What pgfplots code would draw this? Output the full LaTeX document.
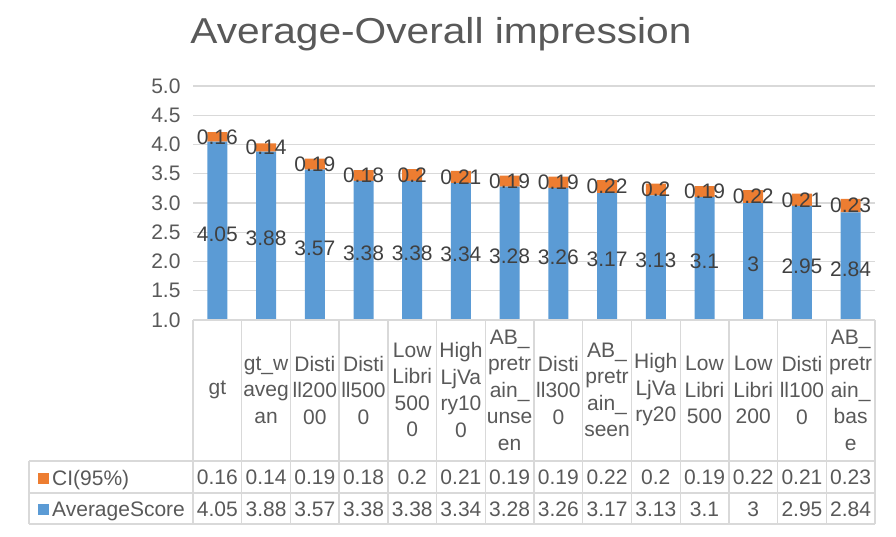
\documentclass[border=0pt]{standalone}
\usepackage{pgfplots}
\pgfplotsset{compat=1.18}
\usepackage{pgfplotstable}
\usepackage{fontspec}
\setmainfont{Liberation Sans}
\newfontfamily\titlefont{Liberation Sans}[FakeStretch=1.13]
\definecolor{barblue}{HTML}{5B9BD5}
\definecolor{barorange}{HTML}{ED7D31}
\definecolor{txtgray}{HTML}{595959}
\definecolor{lblgray}{HTML}{404040}
\definecolor{gridgray}{HTML}{D9D9D9}
\newcommand\lbl{\fontsize{21}{26}\selectfont}

\pgfplotstableread{
x score ci
0 4.05 0.16
1 3.88 0.14
2 3.57 0.19
3 3.38 0.18
4 3.38 0.2
5 3.34 0.21
6 3.28 0.19
7 3.26 0.19
8 3.17 0.22
9 3.13 0.2
10 3.1 0.19
11 3 0.22
12 2.95 0.21
13 2.84 0.23
}\data

\begin{document}
\begin{tikzpicture}
\useasboundingbox (0pt,0pt) rectangle (896pt,536pt);
\node[anchor=base, text=txtgray, font=\titlefont\fontsize{36}{40}\selectfont] at (441pt,492pt) {Average-Overall impression};

\begin{axis}[
  at={(193pt,216pt)}, anchor=south west,
  scale only axis, width=682pt, height=234pt,
  ybar stacked, bar width=20pt,
  xmin=-0.5, xmax=13.5, ymin=1, ymax=5,
  ytick={1,1.5,2,2.5,3,3.5,4,4.5,5},
  xtick={0,1,2,3,4,5,6,7,8,9,10,11,12,13},
  xticklabels={gt,{gt\_w\\aveg\\an},{Disti\\ll200\\00},{Disti\\ll500\\0},{Low\\Libri\\500\\0},{High\\LjVa\\ry10\\0},{AB\_\\pretr\\ain\_\\unse\\en},{Disti\\ll300\\0},{AB\_\\pretr\\ain\_\\seen},{High\\LjVa\\ry20},{Low\\Libri\\500},{Low\\Libri\\200},{Disti\\ll100\\0},{AB\_\\pretr\\ain\_\\bas\\e}},
  axis x line=bottom, axis y line=left, axis line style={draw=none,-},
  major tick length=0pt,
  ymajorgrids, grid style={gridgray, line width=1.3pt},
  /pgf/number format/assume math mode=true,
  yticklabel style={font=\lbl, text=txtgray, /pgf/number format/fixed, /pgf/number format/fixed zerofill, /pgf/number format/precision=1, xshift=-9pt},
  xticklabel style={anchor=center, align=center, yshift=-70pt, font=\fontsize{21}{26.5}\selectfont, text=txtgray, inner sep=0pt},
]
\addplot[fill=barblue, draw=none] table[x=x, y=score]{\data};
\addplot[fill=barorange, draw=none] table[x=x, y=ci]{\data};
\end{axis}

\begin{axis}[
  at={(193pt,216pt)}, anchor=south west,
  scale only axis, width=682pt, height=234pt,
  xmin=-0.5, xmax=13.5, ymin=1, ymax=5,
  hide axis, clip=false,
]
\addplot[draw=none, mark=none, nodes near coords, point meta=explicit symbolic,
  nodes near coords style={anchor=center, text=lblgray, font=\lbl, inner sep=0pt, yshift=-3pt}]
  table[x=x, y expr={(1+\thisrow{score})/2}, meta=score]{\data};
\addplot[draw=none, mark=none, nodes near coords, point meta=explicit symbolic,
  nodes near coords style={anchor=center, text=lblgray, font=\lbl, inner sep=0pt}]
  table[x=x, y expr={\thisrow{score}+\thisrow{ci}/2}, meta=ci]{\data};
\addplot[draw=none, mark=none, nodes near coords, point meta=explicit symbolic,
  nodes near coords style={anchor=center, text=txtgray, font=\lbl, inner sep=0pt}]
  table[x=x, y expr={-1.684}, meta=ci]{\data};
\addplot[draw=none, mark=none, nodes near coords, point meta=explicit symbolic,
  nodes near coords style={anchor=center, text=txtgray, font=\lbl, inner sep=0pt}]
  table[x=x, y expr={-2.231}, meta=score]{\data};
\end{axis}

\begin{scope}[gridgray, line width=1.3pt]
\draw (193pt,216pt) -- (875pt,216pt);
\draw (29pt,75pt) -- (875pt,75pt);
\draw (29pt,43pt) -- (875pt,43pt);
\draw (29pt,12pt) -- (875pt,12pt);
\draw (29pt,75pt) -- (29pt,12pt);
\foreach \k in {0,...,14} {
  \draw ({193pt+\k*48.714pt},216pt) -- ({193pt+\k*48.714pt},12pt);
}
\end{scope}

\node[anchor=base west, inner sep=0pt, text=txtgray, font=\lbl] at (38pt,51pt) {\textcolor{barorange}{\raisebox{1pt}{\rule{11pt}{11pt}}}\hspace{3pt}CI(95\%)};
\node[anchor=base west, inner sep=0pt, text=txtgray, font=\lbl] at (38pt,20pt) {\textcolor{barblue}{\raisebox{1pt}{\rule{11pt}{11pt}}}\hspace{3pt}AverageScore};
\end{tikzpicture}
\end{document}
